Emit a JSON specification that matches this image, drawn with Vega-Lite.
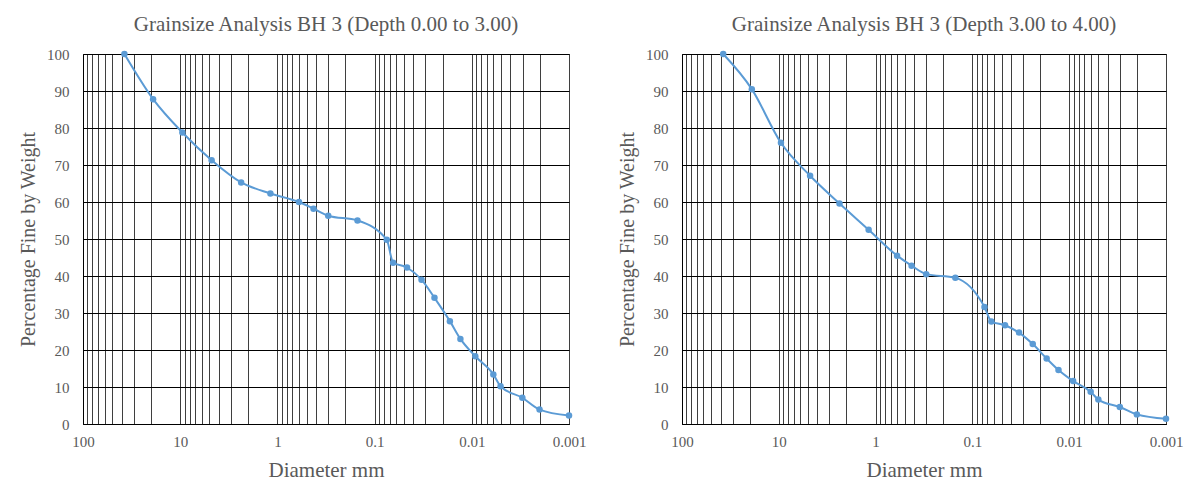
{
  "$schema": "https://vega.github.io/schema/vega-lite/v6.json",
  "background": "white",
  "padding": {"left": 18, "top": 13, "right": 5, "bottom": 5},
  "spacing": 30,
  "datasets": {
    "bh3a": [
      {"d": 37.5, "pct": 100},
      {"d": 19, "pct": 87.8},
      {"d": 9.5, "pct": 78.8},
      {"d": 4.75, "pct": 71.3},
      {"d": 2.36, "pct": 65.3},
      {"d": 1.18, "pct": 62.3},
      {"d": 0.6, "pct": 60.0},
      {"d": 0.425, "pct": 58.2},
      {"d": 0.3, "pct": 56.3},
      {"d": 0.15, "pct": 55.0},
      {"d": 0.075, "pct": 49.8},
      {"d": 0.0645, "pct": 43.6},
      {"d": 0.0464, "pct": 42.3},
      {"d": 0.0329, "pct": 39.0},
      {"d": 0.0242, "pct": 34.1},
      {"d": 0.0168, "pct": 27.8},
      {"d": 0.0131, "pct": 23.0},
      {"d": 0.0092, "pct": 18.3},
      {"d": 0.006, "pct": 13.4},
      {"d": 0.00506, "pct": 10.2},
      {"d": 0.00302, "pct": 7.1},
      {"d": 0.00201, "pct": 3.9},
      {"d": 0.001, "pct": 2.3}
    ],
    "bh3b": [
      {"d": 37.5, "pct": 100},
      {"d": 19, "pct": 90.5},
      {"d": 9.5, "pct": 76.0},
      {"d": 4.75, "pct": 67.1},
      {"d": 2.36, "pct": 59.6},
      {"d": 1.18, "pct": 52.5},
      {"d": 0.6, "pct": 45.5},
      {"d": 0.425, "pct": 42.8},
      {"d": 0.3, "pct": 40.5},
      {"d": 0.15, "pct": 39.5},
      {"d": 0.075, "pct": 31.6},
      {"d": 0.0637, "pct": 27.7},
      {"d": 0.046, "pct": 26.7},
      {"d": 0.033, "pct": 24.7},
      {"d": 0.0238, "pct": 21.6},
      {"d": 0.0171, "pct": 17.7},
      {"d": 0.0129, "pct": 14.6},
      {"d": 0.0091, "pct": 11.6},
      {"d": 0.006, "pct": 8.7},
      {"d": 0.005, "pct": 6.6},
      {"d": 0.003, "pct": 4.6},
      {"d": 0.002, "pct": 2.6},
      {"d": 0.001, "pct": 1.4}
    ]
  },
  "hconcat": [
    {
      "title": {"text": "Grainsize Analysis BH 3 (Depth 0.00 to 3.00)"},
      "width": 486,
      "height": 370,
      "data": {"name": "bh3a"},
      "mark": {"type": "line", "interpolate": "monotone", "color": "#5B9BD5", "strokeWidth": 2, "point": {"filled": true, "size": 42, "color": "#5B9BD5"}},
      "encoding": {
        "x": {
          "field": "d", "type": "quantitative",
          "scale": {"type": "log", "domain": [0.001, 100], "reverse": true},
          "axis": {
            "title": "Diameter mm",
            "values": [100,90,80,70,60,50,40,30,20,10,9,8,7,6,5,4,3,2,1,0.9,0.8,0.7,0.6,0.5,0.4,0.3,0.2,0.1,0.09,0.08,0.07,0.06,0.05,0.04,0.03,0.02,0.01,0.009,0.008,0.007,0.006,0.005,0.004,0.003,0.002,0.001],
            "labelExpr": "datum.value == 100 || datum.value == 10 || datum.value == 1 || datum.value == 0.1 || datum.value == 0.01 || datum.value == 0.001 ? toString(datum.value) : ''",
            "labelOverlap": false,
            "gridColor": "#3f3f3f",
            "gridWidth": 1
          }
        },
        "y": {
          "field": "pct", "type": "quantitative",
          "scale": {"domain": [0, 100]},
          "axis": {
            "title": "Percentage Fine by Weight",
            "values": [0,10,20,30,40,50,60,70,80,90,100],
            "gridColor": "#000000",
            "gridWidth": 1.2
          }
        }
      }
    },
    {
      "title": {"text": "Grainsize Analysis BH 3 (Depth 3.00 to 4.00)"},
      "width": 484,
      "height": 370,
      "data": {"name": "bh3b"},
      "mark": {"type": "line", "interpolate": "monotone", "color": "#5B9BD5", "strokeWidth": 2, "point": {"filled": true, "size": 42, "color": "#5B9BD5"}},
      "encoding": {
        "x": {
          "field": "d", "type": "quantitative",
          "scale": {"type": "log", "domain": [0.001, 100], "reverse": true},
          "axis": {
            "title": "Diameter mm",
            "values": [100,90,80,70,60,50,40,30,20,10,9,8,7,6,5,4,3,2,1,0.9,0.8,0.7,0.6,0.5,0.4,0.3,0.2,0.1,0.09,0.08,0.07,0.06,0.05,0.04,0.03,0.02,0.01,0.009,0.008,0.007,0.006,0.005,0.004,0.003,0.002,0.001],
            "labelExpr": "datum.value == 100 || datum.value == 10 || datum.value == 1 || datum.value == 0.1 || datum.value == 0.01 || datum.value == 0.001 ? toString(datum.value) : ''",
            "labelOverlap": false,
            "gridColor": "#3f3f3f",
            "gridWidth": 1
          }
        },
        "y": {
          "field": "pct", "type": "quantitative",
          "scale": {"domain": [0, 100]},
          "axis": {
            "title": "Percentage Fine by Weight",
            "values": [0,10,20,30,40,50,60,70,80,90,100],
            "gridColor": "#000000",
            "gridWidth": 1.2
          }
        }
      }
    }
  ],
  "config": {
    "font": "Liberation Serif",
    "view": {"stroke": "#262626", "strokeWidth": 1},
    "title": {"font": "Liberation Serif", "fontSize": 21, "fontWeight": "normal", "color": "#595959", "anchor": "middle", "offset": 12},
    "axis": {
      "labelFont": "Liberation Serif",
      "titleFont": "Liberation Serif",
      "labelFontSize": 15,
      "titleFontSize": 21,
      "titleFontWeight": "normal",
      "labelColor": "#595959",
      "titleColor": "#595959",
      "ticks": false,
      "domainColor": "#000000",
      "labelBound": false,
      "labelFlush": false
    },
    "axisX": {"labelPadding": 10, "titlePadding": 10},
    "axisY": {"labelPadding": 14, "titlePadding": 8, "titleFontSize": 20}
  }
}
